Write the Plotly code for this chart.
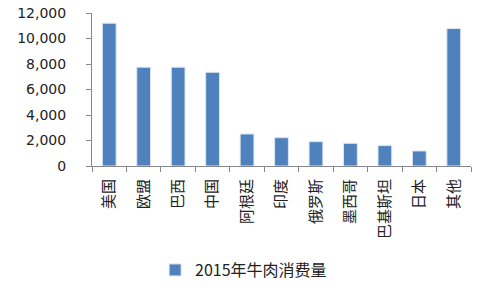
import plotly.graph_objects as go

categories = ["美国", "欧盟", "巴西", "中国", "阿根廷", "印度", "俄罗斯", "墨西哥", "巴基斯坦", "日本", "其他"]
values = [11200, 7750, 7750, 7350, 2510, 2220, 1910, 1780, 1600, 1180, 10780]
series_name = "2015年牛肉消费量"
y_ticks = [0, 2000, 4000, 6000, 8000, 10000, 12000]

fig = go.Figure()
fig.add_trace(go.Bar(
    x=categories, y=values, name=series_name,
    marker=dict(color="#4F81BD", line=dict(color="#DCE6F2", width=1)),
    width=0.4, showlegend=True,
))

fig.update_layout(
    width=486, height=292,
    margin=dict(l=92, r=15, t=13, b=126, autoexpand=False),
    paper_bgcolor="white", plot_bgcolor="white",
    font=dict(family="DejaVu Sans, Noto Sans CJK SC", size=14, color="#222"),
    showlegend=True,
    legend=dict(orientation="h", x=0.40, y=-0.68, xanchor="center", yanchor="middle",
                itemwidth=30,
                font=dict(family="Noto Sans CJK SC", size=16, color="#222")),
    xaxis=dict(
        type="category", tickangle=-90, tickson="boundaries", automargin=False,
        ticks="outside", ticklen=5, tickcolor="#888",
        showline=True, linecolor="#888", linewidth=1,
        showgrid=False, ticklabelstandoff=6,
        tickfont=dict(family="Noto Sans CJK SC", size=15, color="#222"),
    ),
    yaxis=dict(
        range=[0, 12000], tickvals=y_ticks, tickformat=",", automargin=False,
        ticks="outside", ticklen=5, tickcolor="#888",
        showline=True, linecolor="#888", linewidth=1,
        showgrid=False, zeroline=False, ticklabelstandoff=17,
        tickfont=dict(family="DejaVu Sans", size=14, color="#222"),
    ),
)

fig.write_html("out.html")
